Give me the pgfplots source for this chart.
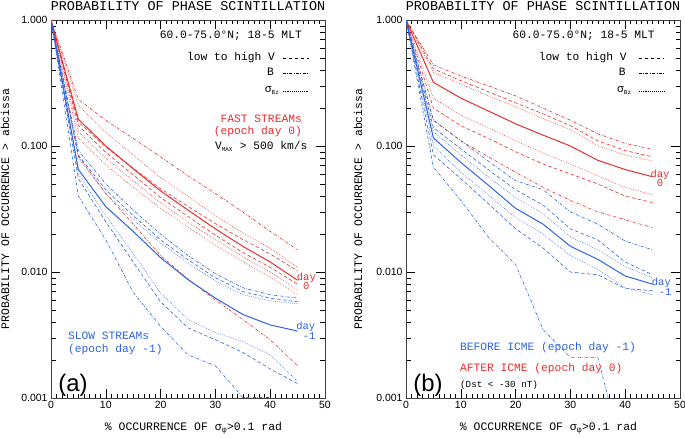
\documentclass[border=0pt]{standalone}
\usepackage{pgfplots}
\pgfplotsset{compat=1.18}
\usepackage{fontspec}
\setmainfont{Liberation Mono}
\newfontfamily\sansf{Liberation Sans}
\definecolor{rc}{RGB}{232,45,45}
\definecolor{bc}{RGB}{45,100,225}
\tikzset{
  lab/.style={font=\fontsize{11.3}{12}\selectfont, inner sep=0pt},
  vd/.style={dash pattern=on 3.5pt off 2.5pt, line width=0.6pt},
  bd/.style={dash pattern=on 3pt off 1.5pt on 0.6pt off 1.5pt, line width=0.6pt},
  sd/.style={dash pattern=on 0.6pt off 1.3pt, line width=0.6pt},
  so/.style={line width=1pt},
}
\pgfplotsset{mypanel/.style={
  scale only axis, width=274bp, height=378bp,
  xmin=0, xmax=50, ymin=0.001, ymax=1,
  xtick={0,10,...,50}, minor x tick num=9,
  ytick={0.001,0.01,0.1,1}, yticklabels={0.001,0.010,0.100,1.000},
  major tick length=9bp, minor tick length=4.5bp,
  tick style={black, line width=0.5pt},
  axis line style={line width=0.8pt, black!75},
  tick label style={font=\sansf\fontsize{10.5}{12}\selectfont},
  /pgf/number format/assume math mode=true,
  clip mode=individual,
  anchor=south west,
}}
\begin{document}
\begin{tikzpicture}
\useasboundingbox (0,0) rectangle (685bp,438bp);
% ---------------- panel (a)
\begin{axis}[ymode=log, mypanel, at={(51bp,40bp)}]
% red
\addplot[rc, so] coordinates {(0,1)(5,0.163)(10,0.100)(15,0.066)(20,0.044)(25,0.031)(30,0.022)(35,0.016)(40,0.012)(45,0.0086)};
\addplot[rc, bd] coordinates {(0,1)(5,0.234)(10,0.16)(15,0.115)(20,0.082)(25,0.058)(30,0.042)(35,0.030)(40,0.021)(45,0.015)};
\addplot[rc, sd] coordinates {(0,1)(5,0.21)(10,0.128)(15,0.085)(20,0.056)(25,0.040)(30,0.028)(35,0.0205)(40,0.0154)(45,0.0109)};
\addplot[rc, vd] coordinates {(0,1)(5,0.155)(10,0.098)(15,0.0667)(20,0.0458)(25,0.0332)(30,0.0242)(35,0.0181)(40,0.0139)(45,0.0102)};
\addplot[rc, vd] coordinates {(0,1)(5,0.145)(10,0.089)(15,0.059)(20,0.039)(25,0.0276)(30,0.0196)(35,0.0143)(40,0.0109)(45,0.0080)};
\addplot[rc, sd] coordinates {(0,1)(5,0.13)(10,0.080)(15,0.053)(20,0.0354)(25,0.025)(30,0.018)(35,0.0132)(40,0.010)(45,0.0072)};
\addplot[rc, sd] coordinates {(0,1)(5,0.115)(10,0.071)(15,0.047)(20,0.032)(25,0.0228)(30,0.0163)(35,0.0121)(40,0.0091)(45,0.0066)};
\addplot[rc, bd] coordinates {(0,1)(5,0.083)(10,0.042)(15,0.024)(20,0.0135)(25,0.0088)(30,0.0060)(35,0.0042)(40,0.0029)(45,0.0018)};
% blue
\addplot[bc, so] coordinates {(0,1)(5,0.065)(10,0.033)(15,0.021)(20,0.013)(25,0.0087)(30,0.0062)(35,0.0046)(40,0.0038)(45,0.0034)};
\addplot[bc, bd] coordinates {(0,1)(5,0.092)(10,0.050)(15,0.031)(20,0.020)(25,0.0135)(30,0.0097)(35,0.0075)(40,0.0066)(45,0.0062)};
\addplot[bc, vd] coordinates {(0,1)(5,0.085)(10,0.045)(15,0.028)(20,0.018)(25,0.0125)(30,0.009)(35,0.0070)(40,0.0062)(45,0.0058)};
\addplot[bc, sd] coordinates {(0,1)(5,0.080)(10,0.042)(15,0.026)(20,0.017)(25,0.0118)(30,0.0085)(35,0.0066)(40,0.0059)(45,0.0056)};
\addplot[bc, sd] coordinates {(0,1)(5,0.060)(10,0.028)(15,0.014)(20,0.0068)(25,0.0042)(30,0.0033)(35,0.0028)(40,0.0022)(45,0.00135)};
\addplot[bc, vd] coordinates {(0,1)(5,0.055)(10,0.025)(15,0.012)(20,0.0058)(25,0.0036)(30,0.0029)(35,0.0023)(40,0.0017)(45,0.0013)};
\addplot[bc, bd] coordinates {(0,1)(5,0.040)(10,0.018)(15,0.0069)(20,0.0037)(25,0.0022)(30,0.0018)(35,0.00101)(40,0.00101)(45,0.0007)};
% texts
\node[anchor=base, inner sep=0pt, font=\fontsize{13.5}{14}\selectfont] at (rel axis cs:0.5,1) [yshift=10bp] {PROBABILITY OF PHASE SCINTILLATION};
\node[rotate=90, inner sep=0pt, font=\fontsize{11.5}{12}\selectfont] at (rel axis cs:-0.168,0.5) {PROBABILITY OF OCCURRENCE > abcissa};
\node[inner sep=0pt, font=\fontsize{11.5}{12}\selectfont] at (rel axis cs:0.52,0) [yshift=-30bp] {\% OCCURRENCE OF σ\textsubscript{φ}>0.1 rad};
\node[lab, anchor=base east] at (axis cs:45.8,0.716) {60.0-75.0°N; 18-5 MLT};
\node[lab, anchor=base east] at (axis cs:40.9,0.48) {low to high V};
\node[lab, anchor=base east] at (axis cs:40.7,0.364) {B};
\node[lab, anchor=base west] at (axis cs:39.0,0.266) {σ\textsubscript{\fontsize{6}{6}\selectfont Bz}};
\draw[black, vd, line width=0.5pt] (axis cs:42.3,0.50) -- (axis cs:47.1,0.50);
\draw[black, bd, line width=0.5pt] (axis cs:42.3,0.378) -- (axis cs:47.1,0.378);
\draw[black, sd, line width=0.5pt] (axis cs:42.3,0.274) -- (axis cs:47.1,0.274);
\node[lab, anchor=base east, text=rc] at (axis cs:45.8,0.154) {FAST STREAMs};
\node[lab, anchor=base east, text=rc] at (axis cs:45.8,0.124) {(epoch day 0)};
\node[lab, anchor=base west] at (axis cs:29.9,0.094) {V\textsubscript{\fontsize{6}{6}\selectfont MAX} > 500 km/s};
\node[lab, anchor=base, text=rc, font=\fontsize{10.5}{11}\selectfont] at (axis cs:46.6,0.0086) {day};
\node[lab, anchor=base, text=rc, font=\fontsize{10.5}{11}\selectfont] at (axis cs:46.6,0.0072) {0};
\node[lab, anchor=base, text=bc, font=\fontsize{10.5}{11}\selectfont] at (axis cs:46.5,0.0035) {day};
\node[lab, anchor=base, text=bc, font=\fontsize{10.5}{11}\selectfont] at (axis cs:47.1,0.0029) {-1};
\node[lab, anchor=base west, text=bc] at (axis cs:3.1,0.0029) {SLOW STREAMs};
\node[lab, anchor=base west, text=bc] at (axis cs:3.1,0.0023) {(epoch day -1)};
\node[anchor=base west, inner sep=0pt, font=\sansf\fontsize{24}{24}\selectfont] at (axis cs:1.3,0.00112) {(a)};
\end{axis}
% ---------------- panel (b)
\begin{axis}[ymode=log, mypanel, at={(406bp,40bp)}]
% red
\addplot[rc, so] coordinates {(0,1)(5,0.32)(10,0.24)(15,0.19)(20,0.15)(25,0.122)(30,0.100)(35,0.077)(40,0.065)(45,0.057)};
\addplot[rc, bd] coordinates {(0,1)(5,0.44)(10,0.36)(15,0.30)(20,0.25)(25,0.20)(30,0.160)(35,0.125)(40,0.105)(45,0.094)};
\addplot[rc, vd] coordinates {(0,1)(5,0.41)(10,0.33)(15,0.27)(20,0.22)(25,0.18)(30,0.145)(35,0.11)(40,0.092)(45,0.082)};
\addplot[rc, sd] coordinates {(0,1)(5,0.385)(10,0.31)(15,0.25)(20,0.205)(25,0.165)(30,0.135)(35,0.10)(40,0.085)(45,0.076)};
\addplot[rc, sd] coordinates {(0,1)(5,0.24)(10,0.175)(15,0.14)(20,0.11)(25,0.088)(30,0.072)(35,0.058)(40,0.047)(45,0.041)};
\addplot[rc, vd] coordinates {(0,1)(5,0.20)(10,0.145)(15,0.115)(20,0.09)(25,0.072)(30,0.060)(35,0.050)(40,0.040)(45,0.0356)};
\addplot[rc, bd] coordinates {(0,1)(5,0.16)(10,0.11)(15,0.082)(20,0.062)(25,0.047)(30,0.037)(35,0.030)(40,0.026)(45,0.0225)};
% blue
\addplot[bc, so] coordinates {(0,1)(5,0.116)(10,0.074)(15,0.049)(20,0.032)(25,0.024)(30,0.016)(35,0.0126)(40,0.0093)(45,0.0080)};
\addplot[bc, bd] coordinates {(0,1)(5,0.16)(10,0.11)(15,0.076)(20,0.053)(25,0.045)(30,0.030)(35,0.024)(40,0.0176)(45,0.015)};
\addplot[bc, vd] coordinates {(0,1)(5,0.14)(10,0.095)(15,0.065)(20,0.045)(25,0.034)(30,0.022)(35,0.018)(40,0.012)(45,0.0095)};
\addplot[bc, sd] coordinates {(0,1)(5,0.13)(10,0.085)(15,0.057)(20,0.039)(25,0.029)(30,0.019)(35,0.015)(40,0.011)(45,0.0090)};
\addplot[bc, sd] coordinates {(0,1)(5,0.10)(10,0.062)(15,0.041)(20,0.027)(25,0.020)(30,0.0135)(35,0.0105)(40,0.0075)(45,0.0066)};
\addplot[bc, vd] coordinates {(0,1)(5,0.085)(10,0.055)(15,0.035)(20,0.022)(25,0.0155)(30,0.010)(35,0.0095)(40,0.0074)(45,0.0071)};
\addplot[bc, bd] coordinates {(0,1)(5,0.068)(10,0.037)(15,0.019)(20,0.0115)(25,0.0035)(30,0.0021)(35,0.0021)(40,0.0003)};
% texts
\node[anchor=base, inner sep=0pt, font=\fontsize{13.5}{14}\selectfont] at (rel axis cs:0.5,1) [yshift=10bp] {PROBABILITY OF PHASE SCINTILLATION};
\node[rotate=90, inner sep=0pt, font=\fontsize{11.5}{12}\selectfont] at (rel axis cs:-0.175,0.5) {PROBABILITY OF OCCURRENCE > abcissa};
\node[inner sep=0pt, font=\fontsize{11.5}{12}\selectfont] at (rel axis cs:0.52,0) [yshift=-30bp] {\% OCCURRENCE OF σ\textsubscript{φ}>0.1 rad};
\node[lab, anchor=base east] at (axis cs:45.4,0.716) {60.0-75.0°N; 18-5 MLT};
\node[lab, anchor=base east] at (axis cs:40.3,0.48) {low to high V};
\node[lab, anchor=base east] at (axis cs:40.1,0.364) {B};
\node[lab, anchor=base west] at (axis cs:38.5,0.266) {σ\textsubscript{\fontsize{6}{6}\selectfont Bz}};
\draw[black, vd, line width=0.5pt] (axis cs:42.5,0.50) -- (axis cs:47.0,0.50);
\draw[black, bd, line width=0.5pt] (axis cs:42.5,0.378) -- (axis cs:47.0,0.378);
\draw[black, sd, line width=0.5pt] (axis cs:42.5,0.274) -- (axis cs:47.0,0.274);
\node[lab, anchor=base, text=rc, font=\fontsize{10.5}{11}\selectfont] at (axis cs:46.35,0.0565) {day};
\node[lab, anchor=base, text=rc, font=\fontsize{10.5}{11}\selectfont] at (axis cs:46.35,0.048) {0};
\node[lab, anchor=base, text=bc, font=\fontsize{10.5}{11}\selectfont] at (axis cs:46.6,0.0078) {day};
\node[lab, anchor=base, text=bc, font=\fontsize{10.5}{11}\selectfont] at (axis cs:47.3,0.0065) {-1};
\node[lab, anchor=base west, text=bc] at (axis cs:9.85,0.0024) {BEFORE ICME (epoch day -1)};
\node[lab, anchor=base west, text=rc] at (axis cs:9.85,0.00162) {AFTER ICME (epoch day 0)};
\node[lab, anchor=base west, font=\fontsize{9.3}{10}\selectfont] at (axis cs:9.85,0.00122) {(Dst < -30 nT)};
\node[anchor=base west, inner sep=0pt, font=\sansf\fontsize{24}{24}\selectfont] at (axis cs:1.3,0.00112) {(b)};
\end{axis}
\end{tikzpicture}
\end{document}
